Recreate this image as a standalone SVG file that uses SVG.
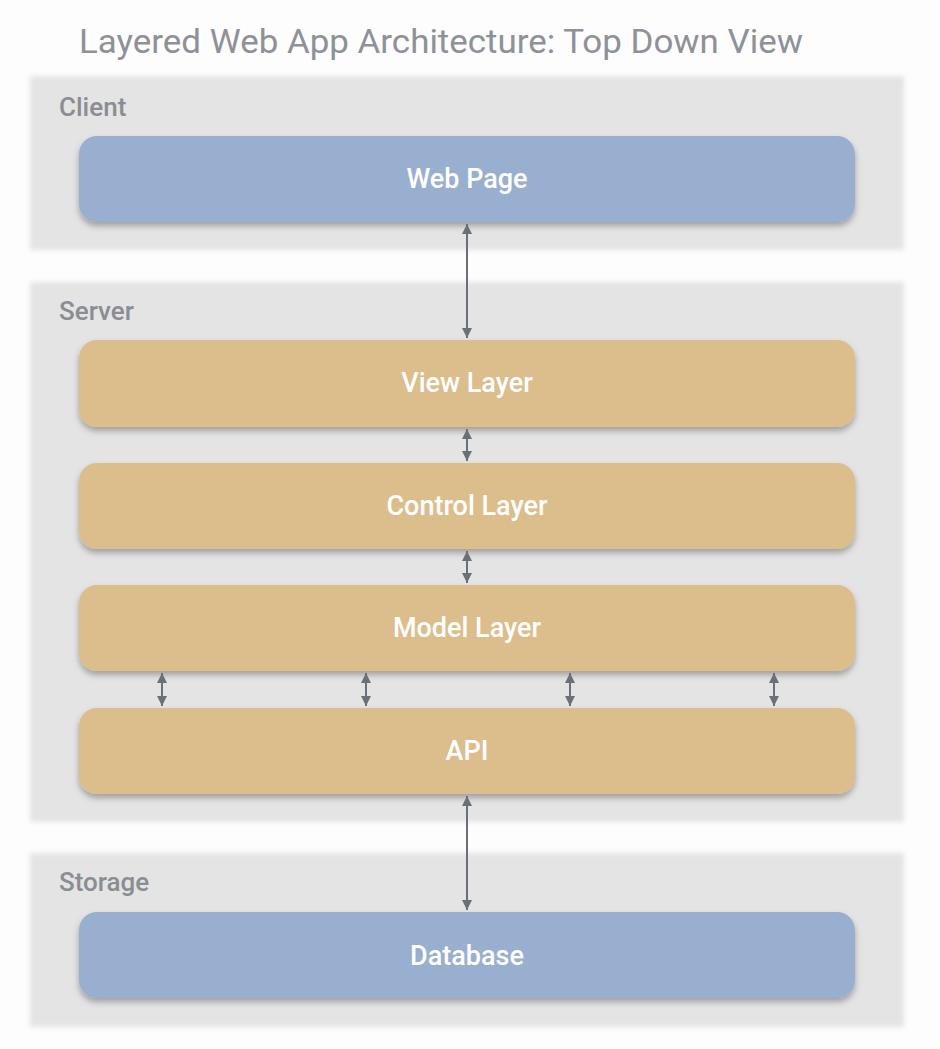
<svg xmlns="http://www.w3.org/2000/svg" width="940" height="1049" viewBox="0 0 940 1049">
<defs>
<filter id="gblur" x="-5%" y="-10%" width="110%" height="120%"><feGaussianBlur stdDeviation="2.5"/></filter>
<filter id="shadow" x="-5%" y="-20%" width="110%" height="150%"><feDropShadow dx="0" dy="4" stdDeviation="3" flood-color="#000" flood-opacity="0.3"/></filter>
<marker id="ah" viewBox="0 0 10 10" refX="10" refY="5" markerWidth="5" markerHeight="5" orient="auto-start-reverse" markerUnits="strokeWidth"><path d="M0,0 L10,5 L0,10 z" fill="#6b6f78"/></marker>
<style>
.title{font-family:Roboto,"Liberation Sans",sans-serif;font-size:33px;fill:#8e9198;}
.glabel{font-family:Roboto,"Liberation Sans",sans-serif;font-size:26px;font-weight:500;fill:#8a8d93;}
.grp{fill:#e4e4e4;}
.blue{fill:#99afcf;}
.tan{fill:#dcbd8c;}
.ntext{font-family:Roboto,"Liberation Sans",sans-serif;font-size:27px;font-weight:500;fill:#ffffff;text-anchor:middle;}
.conn{stroke:#6b6f78;stroke-width:2;fill:none;marker-start:url(#ah);marker-end:url(#ah);}
</style>
</defs>
<rect width="940" height="1049" fill="#fdfdfd"/>
<text class="title" x="79" y="53" textLength="724" lengthAdjust="spacingAndGlyphs">Layered Web App Architecture: Top Down View</text>
<g id="client">
<rect class="grp" x="30" y="76" width="874" height="174" filter="url(#gblur)"/>
<text class="glabel" x="59" y="116">Client</text>
</g>
<g id="server">
<rect class="grp" x="30" y="282" width="874" height="540" filter="url(#gblur)"/>
<text class="glabel" x="59" y="320">Server</text>
</g>
<g id="storage">
<rect class="grp" x="30" y="853" width="874" height="174" filter="url(#gblur)"/>
<text class="glabel" x="59" y="891">Storage</text>
</g>
<g id="webpage">
<rect class="blue" x="79" y="136" width="776" height="86" rx="18" filter="url(#shadow)"/>
<text class="ntext" x="467" y="188">Web Page</text>
</g>
<g id="viewlayer">
<rect class="tan" x="79" y="340" width="776" height="87" rx="18" filter="url(#shadow)"/>
<text class="ntext" x="467" y="392">View Layer</text>
</g>
<g id="controllayer">
<rect class="tan" x="79" y="463" width="776" height="86" rx="18" filter="url(#shadow)"/>
<text class="ntext" x="467" y="515">Control Layer</text>
</g>
<g id="modellayer">
<rect class="tan" x="79" y="585" width="776" height="86" rx="18" filter="url(#shadow)"/>
<text class="ntext" x="467" y="637">Model Layer</text>
</g>
<g id="api">
<rect class="tan" x="79" y="708" width="776" height="86" rx="18" filter="url(#shadow)"/>
<text class="ntext" x="467" y="760">API</text>
</g>
<g id="database">
<rect class="blue" x="79" y="912" width="776" height="86" rx="18" filter="url(#shadow)"/>
<text class="ntext" x="467" y="965">Database</text>
</g>
<g id="connectors">
<line class="conn" x1="467" y1="224" x2="467" y2="338"/>
<line class="conn" x1="467" y1="429" x2="467" y2="461"/>
<line class="conn" x1="467" y1="551" x2="467" y2="583"/>
<line class="conn" x1="162" y1="673" x2="162" y2="706"/>
<line class="conn" x1="366" y1="673" x2="366" y2="706"/>
<line class="conn" x1="570" y1="673" x2="570" y2="706"/>
<line class="conn" x1="774" y1="673" x2="774" y2="706"/>
<line class="conn" x1="467" y1="796" x2="467" y2="910"/>
</g>
</svg>
